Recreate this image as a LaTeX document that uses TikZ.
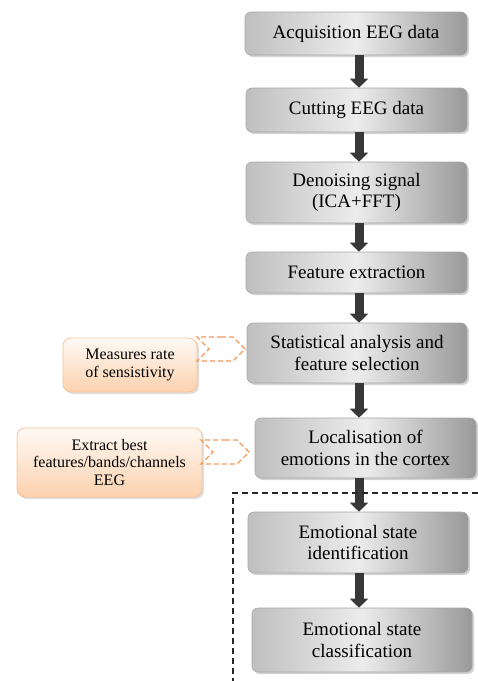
\documentclass[tikz,border=0pt]{standalone}
\usepackage{fontspec}
\setmainfont{Liberation Serif}
\usetikzlibrary{shapes.symbols,shadows,arrows.meta}
\definecolor{orline}{HTML}{F2985A}
\definecolor{orfill}{HTML}{FBD1AE}
\definecolor{orborder}{HTML}{F7C39A}
\begin{document}
\begin{tikzpicture}[x=1pt,y=-1pt,
  box/.style={draw=gray!70, line width=0.6pt, rounded corners=6pt,
    left color=gray!50, right color=gray!80, middle color=gray!15,
    drop shadow={shadow xshift=2pt, shadow yshift=-2pt, opacity=0.35},
    align=center, inner sep=2pt,
    font=\fontsize{19}{21.5}\selectfont},
  obox/.style={draw=orborder, line width=0.8pt, rounded corners=8pt,
    top color=orange!4, bottom color=orfill,
    drop shadow={shadow xshift=2pt, shadow yshift=-2pt, opacity=0.25},
    align=center, inner sep=2pt,
    font=\fontsize{16}{17.5}\selectfont},
  chev/.style={shape=signal, signal to=east, signal from=west,
    signal pointer angle=90, draw=orline,
    dash pattern=on 5pt off 3pt, line width=1.4pt,
    minimum width=48pt, minimum height=24pt, inner sep=0pt},
  bigarrow/.style={line width=9pt, draw=black!78,
    -{Triangle[width=18pt,length=9pt]}},
  frame/.style={draw=black!85, line width=1.1pt, dash pattern=on 6pt off 4pt}
]
\useasboundingbox (0,0) rectangle (478,681);

\node[box, minimum width=222pt, minimum height=43pt] (b1) at (356,33.5) {Acquisition EEG data};
\node[box, minimum width=221pt, minimum height=44pt] (b2) at (356.5,110) {Cutting EEG data};
\node[box, minimum width=221pt, minimum height=61pt] (b3) at (356.5,192.5) {Denoising signal\\(ICA+FFT)};
\node[box, minimum width=221pt, minimum height=41pt] (b4) at (356.5,272.5) {Feature extraction};
\node[box, minimum width=220pt, minimum height=60pt] (b5) at (357,353) {Statistical analysis and\\feature selection};
\node[box, minimum width=221pt, minimum height=60pt] (b6) at (365.5,448) {Localisation of\\emotions in the cortex};
\node[box, minimum width=220pt, minimum height=61pt] (b7) at (358,542.5) {Emotional state\\identification};
\node[box, minimum width=220pt, minimum height=64pt] (b8) at (362,640) {Emotional state\\classification};

\node[obox, minimum width=134pt, minimum height=54pt] (o1) at (130,365) {Measures rate\\of sensistivity};
\node[obox, minimum width=185pt, minimum height=69pt] (o2) at (109.5,462.5) {Extract best\\features/bands/channels\\EEG};

\node[chev] (c1) at (221,349) {};
\node[chev] (c2) at (225,452) {};

\coordinate (axis) at (359,0);
\draw[bigarrow] (b1.south -| axis) -- (b2.north -| axis);
\draw[bigarrow] (b2.south -| axis) -- (b3.north -| axis);
\draw[bigarrow] (b3.south -| axis) -- (b4.north -| axis);
\draw[bigarrow] (b4.south -| axis) -- (b5.north -| axis);
\draw[bigarrow] (b5.south -| axis) -- (b6.north -| axis);
\draw[bigarrow] (b6.south -| axis) -- (b7.north -| axis);
\draw[bigarrow] (b7.south -| axis) -- (b8.north -| axis);

\coordinate (f1) at (478,493);
\coordinate (f2) at (233,493);
\coordinate (f3) at (233,681);
\draw[frame] (f1) -- (f2) -- (f3);
\end{tikzpicture}
\end{document}
